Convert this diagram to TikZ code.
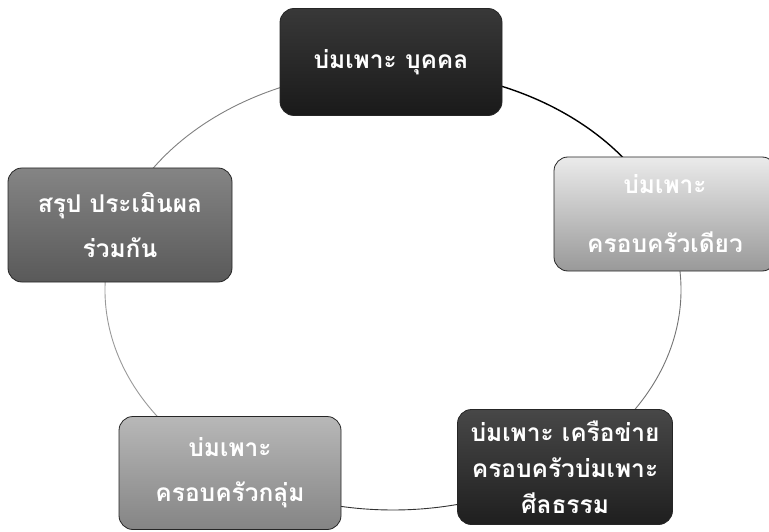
\documentclass[tikz,border=0pt]{standalone}
\usepackage{fontspec}
\newfontfamily\thaifont[Script=Thai]{Loma}
\usetikzlibrary{calc}
\begin{document}
\begin{tikzpicture}[x=1pt,y=-1pt,
  box/.style={draw=black!85, line width=0.8pt, rounded corners=14pt,
    text=white, align=center, inner sep=0pt,
    font=\thaifont\bfseries\fontsize{24.5}{29}\selectfont},
  ring/.style={line width=0.9pt}]
\fill[white] (0,0) rectangle (769,532);
\useasboundingbox (0,0) rectangle (769,532);
\coordinate (c) at (393,290);
\coordinate (p1) at ($(c)+(-90:288 and 220)$);
\coordinate (p2) at ($(c)+(-20:288 and 220)$);
\coordinate (p3) at ($(c)+(53:288 and 220)$);
\coordinate (p4) at ($(c)+(124:288 and 220)$);
\coordinate (p5) at ($(c)+(198:288 and 220)$);
% ring segments
\draw[ring, black, line width=1.4pt] (p1) arc[start angle=-90, end angle=-20, x radius=288, y radius=220];
\draw[ring, black!55] (p2) arc[start angle=-20, end angle=53, x radius=288, y radius=220];
\draw[ring, black!80] (p3) arc[start angle=53, end angle=124, x radius=288, y radius=220];
\draw[ring, black!40] (p4) arc[start angle=124, end angle=198, x radius=288, y radius=220];
\draw[ring, black!50] (p5) arc[start angle=198, end angle=270, x radius=288, y radius=220];
% boxes
\node[box, minimum width=222pt, minimum height=107pt, top color=black!78, bottom color=black!90]
  (top) at (391,62) {บ่มเพาะ บุคคล};
\node[box, minimum width=222pt, minimum height=114pt, top color=black!8, bottom color=black!40]
  (right) at (665,214) {บ่มเพาะ\\[30pt]ครอบครัวเดียว};
\node[box, minimum width=215pt, minimum height=115pt, top color=black!72, bottom color=black!88]
  (br) at (565,467) {บ่มเพาะ เครือข่าย\\[7pt]ครอบครัวบ่มเพาะ\\[7pt]ศีลธรรม};
\node[box, minimum width=222pt, minimum height=113pt, top color=black!28, bottom color=black!48]
  (bl) at (230,473) {บ่มเพาะ\\[16pt]ครอบครัวกลุ่ม};
\node[box, minimum width=224pt, minimum height=114pt, top color=black!48, bottom color=black!65]
  (left) at (120,225) {สรุป ประเมินผล\\[16pt]ร่วมกัน};
\end{tikzpicture}
\end{document}
